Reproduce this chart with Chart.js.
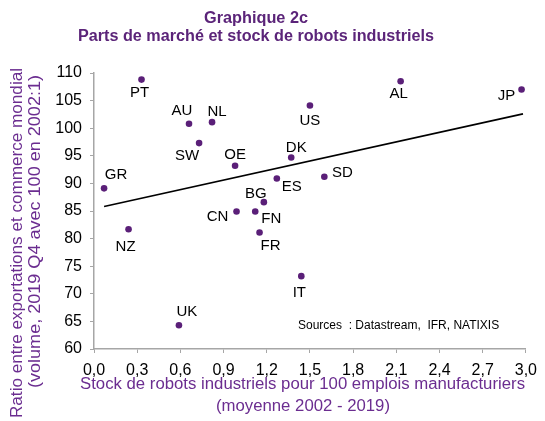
<!DOCTYPE html>
<html>
<head>
<meta charset="utf-8">
<script src="https://cdn.jsdelivr.net/npm/chart.js@4.4.1/dist/chart.umd.min.js"></script>
<style>
  html, body { margin: 0; padding: 0; background: #fff; }
</style>
</head>
<body>
<canvas id="robots" width="545" height="421"></canvas>
<script>
// data
const countries = ['PT', 'AU', 'NL', 'SW', 'OE', 'GR', 'CN', 'BG', 'FN', 'FR', 'ES', 'DK', 'US', 'SD', 'AL', 'JP', 'NZ', 'UK', 'IT'];
const robotStock = [0.33, 0.66, 0.82, 0.73, 0.98, 0.07, 0.99, 1.18, 1.12, 1.15, 1.27, 1.37, 1.50, 1.60, 2.13, 2.97, 0.24, 0.59, 1.44];
const exportRatio = [108.8, 100.8, 101.1, 97.3, 93.2, 89.1, 84.9, 86.6, 84.9, 81.1, 90.9, 94.7, 104.1, 91.2, 108.5, 107.0, 81.7, 64.3, 73.2];
const trendX = [0.07, 2.98];
const trendY = [85.8, 102.6];
const xTickValues = [0, 0.3, 0.6, 0.9, 1.2, 1.5, 1.8, 2.1, 2.4, 2.7, 3.0];
const yTickValues = [60, 65, 70, 75, 80, 85, 90, 95, 100, 105, 110];

// where each country label sits relative to its point (px)
const labelShift = {
  PT: [-2, 12], AU: [-7, -14], NL: [5, -12], SW: [-12, 11], OE: [0, -12.5],
  GR: [12, -15], CN: [-19, 4], BG: [-8, -10], FN: [16, 6], FR: [11, 12],
  ES: [15, 7], DK: [5, -11], US: [0, 14], SD: [18, -5], AL: [-2, 11.5],
  JP: [-15, 5], NZ: [-3, 16], UK: [8, -15], IT: [-2, 15]
};

const FONT = '"Liberation Sans", Arial, sans-serif';
const PURPLE = '#5b2479';
const AXIS_PURPLE = '#6b2d90';

// draws centred text stretched or squeezed to a given width
function fitText(ctx, text, x, y, width) {
  const w = ctx.measureText(text).width;
  ctx.save();
  ctx.translate(x, y);
  ctx.scale(width / w, 1);
  ctx.textAlign = 'center';
  ctx.fillText(text, 0, 0);
  ctx.restore();
}

const annotate = {
  id: 'annotate',
  afterDatasetsDraw(chart) {
    const ctx = chart.ctx;
    const xs = chart.scales.x, ys = chart.scales.y;
    ctx.save();

    // country labels
    ctx.font = '15px ' + FONT;
    ctx.fillStyle = '#000';
    ctx.textAlign = 'center';
    ctx.textBaseline = 'alphabetic';
    countries.forEach((c, i) => {
      const px = xs.getPixelForValue(robotStock[i]);
      const py = ys.getPixelForValue(exportRatio[i]);
      const s = labelShift[c];
      ctx.fillText(c, px + s[0], py + s[1] + 5.4);
    });

    // sources
    ctx.font = '12px ' + FONT;
    ctx.textAlign = 'left';
    ctx.textBaseline = 'middle';
    ctx.fillText('Sources  : Datastream,  IFR, NATIXIS', 298, 326, 202);

    // main title
    ctx.fillStyle = PURPLE;
    ctx.textBaseline = 'alphabetic';
    ctx.font = 'bold 16px ' + FONT;
    fitText(ctx, 'Graphique 2c', 256, 22.7, 104);
    fitText(ctx, 'Parts de marché et stock de robots industriels', 256, 40.7, 356);

    // axis titles
    ctx.fillStyle = AXIS_PURPLE;
    ctx.font = '16px ' + FONT;
    ctx.textBaseline = 'middle';
    fitText(ctx, 'Stock de robots industriels pour 100 emplois manufacturiers', 302.5, 385, 445);
    fitText(ctx, '(moyenne 2002 - 2019)', 303, 407, 174);

    ctx.save();
    ctx.translate(18, 243);
    ctx.rotate(-Math.PI / 2);
    fitText(ctx, 'Ratio entre exportations et commerce mondial', 0, 0, 350);
    ctx.restore();
    ctx.save();
    ctx.translate(36, 231.5);
    ctx.rotate(-Math.PI / 2);
    fitText(ctx, '(volume, 2019 Q4 avec 100 en 2002:1)', 0, 0, 313);
    ctx.restore();

    ctx.restore();
  }
};

new Chart(document.getElementById('robots'), {
  type: 'scatter',
  data: {
    datasets: [{
      data: countries.map((c, i) => ({ x: robotStock[i], y: exportRatio[i] })),
      backgroundColor: '#5a1f78',
      borderWidth: 0,
      pointRadius: 3.3
    }, {
      type: 'line',
      data: trendX.map((x, i) => ({ x: x, y: trendY[i] })),
      borderColor: '#000',
      borderWidth: 1.6,
      pointRadius: 0,
      fill: false
    }]
  },
  options: {
    responsive: false,
    animation: false,
    layout: { padding: { left: 0, right: 14, top: 73, bottom: 0 } },
    plugins: {
      legend: { display: false },
      tooltip: { enabled: false },
      title: { display: false }
    },
    scales: {
      x: {
        type: 'linear',
        min: 0,
        max: 3,
        afterBuildTicks: (scale) => { scale.ticks = xTickValues.map(v => ({ value: v })); },
        afterFit: (scale) => { scale.height = 72; },
        grid: { drawOnChartArea: false, tickLength: 4, color: '#a6a6a6' },
        border: { color: '#a6a6a6', width: 1.5 },
        ticks: {
          color: '#000',
          padding: 8,
          maxRotation: 0,
          font: { family: FONT, size: 16 },
          callback: (v) => v.toFixed(1).replace('.', ',')
        }
      },
      y: {
        min: 60,
        max: 110,
        afterBuildTicks: (scale) => { scale.ticks = yTickValues.map(v => ({ value: v })); },
        afterFit: (scale) => { scale.width = 94; },
        grid: { drawOnChartArea: false, tickLength: 4, color: '#a6a6a6' },
        border: { color: '#a6a6a6', width: 1.5 },
        ticks: {
          color: '#000',
          padding: 8,
          font: { family: FONT, size: 16 }
        }
      }
    }
  },
  plugins: [annotate]
});
</script>
</body>
</html>
